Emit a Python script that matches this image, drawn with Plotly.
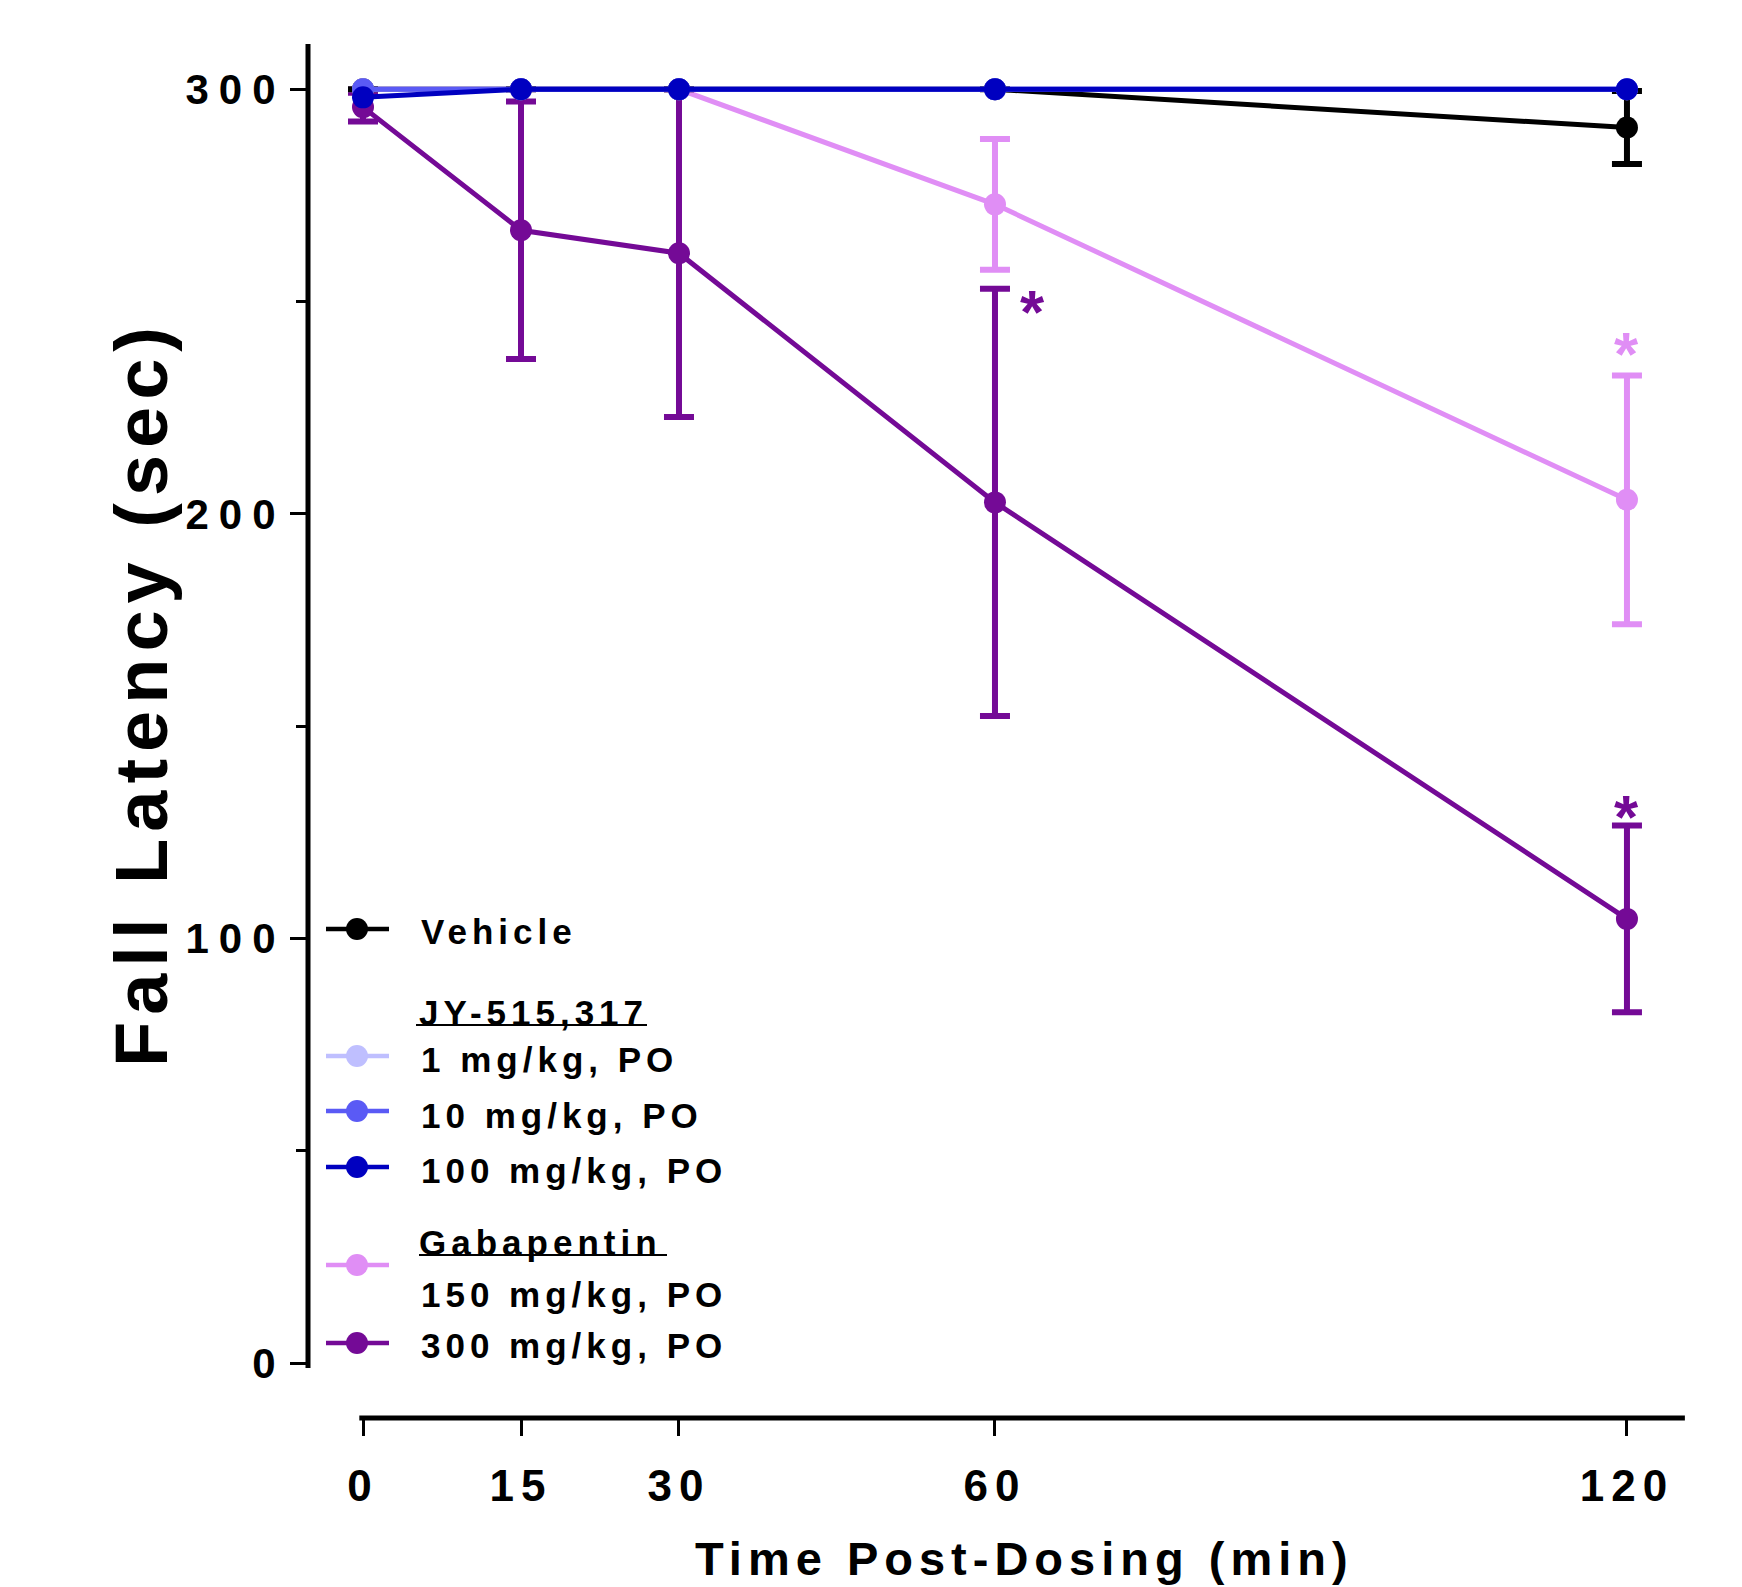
import plotly.graph_objects as go

# ---------------- data ----------------
time_min = [0, 15, 30, 60, 120]
vehicle = [300, 300, 300, 300, 291.0]
vehicle_sem = [None, None, None, None, 8.6]
jy_1 = [300, 300, 300, 300, 300]
jy_10 = [300, 300, 300, 300, 300]
jy_100 = [298.1, 300, 300, 300, 300]
gaba_150 = [300, 300, 300, 272.9, 203.3]
gaba_150_sem = [None, None, None, 15.4, 29.3]
gaba_300 = [295.8, 266.8, 261.4, 202.7, 104.6]
gaba_300_sem = [3.4, 30.3, 38.6, 50.3, 22.0]

x_ticks = [0, 15, 30, 60, 120]
y_ticks = [0, 100, 200, 300]
y_minor = [50, 150, 250]

star_x = [63.6, 120, 120]
star_y = [249.4, 239.4, 130.3]

legend_labels = ["Vehicle", "1 mg/kg, PO", "10 mg/kg, PO", "100 mg/kg, PO",
                 "150 mg/kg, PO", "300 mg/kg, PO"]
group_headers = ["JY-515,317", "Gabapentin"]

# ---------------- style ----------------
C_VEH = "#000000"
C_1 = "#BFBFFF"
C_10 = "#5A5AF5"
C_100 = "#0000C0"
C_150 = "#E08EF5"
C_300 = "#740A96"
FONT = "Liberation Sans, Arial, sans-serif"

W, H = 1742, 1587
L, R, T, B = 308, 1685, 44, 1418   # plot area in pixels


def spaced(txt, sp, trailing=False):
    if trailing:
        return f'<span style="letter-spacing:{sp}px">{txt}</span>'
    if len(txt) < 2:
        return txt
    return f'<span style="letter-spacing:{sp}px">{txt[:-1]}</span>{txt[-1]}'


def px(xp):
    return (xp - L) / (R - L)


def py(yp):
    return (B - yp) / (B - T)


fig = go.Figure()


def add_series(y, color, sem=None):
    err = None
    if sem is not None:
        err = dict(type="data", array=sem, symmetric=True, color=color,
                   thickness=6, width=15)
    fig.add_trace(go.Scatter(
        x=time_min, y=y, mode="lines+markers",
        line=dict(color=color, width=5),
        marker=dict(color=color, size=22, line=dict(width=0)),
        error_y=err, showlegend=False, cliponaxis=False))


add_series(gaba_300, C_300, gaba_300_sem)
add_series(gaba_150, C_150, gaba_150_sem)
add_series(vehicle, C_VEH, vehicle_sem)
add_series(jy_1, C_1)
add_series(jy_10, C_10)
add_series(jy_100, C_100)

# ---------------- manual legend (pixel overlay axes) ----------------
leg_colors = [C_VEH, C_1, C_10, C_100, C_150, C_300]
sym_y = [929, 1056, 1111, 1167, 1265, 1343]
txt_y = [932, 1059.5, 1115.5, 1170.5, 1294, 1345]
for col, yy in zip(leg_colors, sym_y):
    fig.add_trace(go.Scatter(
        x=[326, 389], y=[yy, yy], mode="lines", line=dict(color=col, width=4.5),
        xaxis="x2", yaxis="y2", showlegend=False, hoverinfo="skip"))
    fig.add_trace(go.Scatter(
        x=[357], y=[yy], mode="markers",
        marker=dict(color=col, size=22, line=dict(width=0)),
        xaxis="x2", yaxis="y2", showlegend=False, hoverinfo="skip"))

annotations = []
for lab, yy in zip(legend_labels, txt_y):
    annotations.append(dict(
        x=px(419), y=py(yy), xref="paper", yref="paper", xanchor="left",
        yanchor="middle", text="<b>" + spaced(lab, 5) + "</b>", showarrow=False,
        font=dict(family=FONT, size=35, color="black")))
hdr_y = [1012, 1242]
for lab, yy in zip(group_headers, hdr_y):
    annotations.append(dict(
        x=px(417), y=py(yy), xref="paper", yref="paper", xanchor="left",
        yanchor="middle", text="<b>" + spaced(lab, 5) + "</b>", showarrow=False,
        font=dict(family=FONT, size=35, color="black")))

shapes = [
    dict(type="line", xref="x2", yref="y2", x0=416, x1=647, y0=1025, y1=1025,
         line=dict(color="black", width=2)),
    dict(type="line", xref="x2", yref="y2", x0=419, x1=667, y0=1255, y1=1255,
         line=dict(color="black", width=2)),
    # axis lines
    dict(type="line", xref="paper", yref="y", x0=0, x1=0, y0=-1.2, y1=310.7,
         line=dict(color="black", width=5)),
    dict(type="line", xref="x", yref="paper", x0=-0.35, x1=125.5, y0=0, y1=0,
         line=dict(color="black", width=5)),
]

# significance stars
star_cols = [C_300, C_150, C_300]
for sx, sy, sc in zip(star_x, star_y, star_cols):
    annotations.append(dict(
        x=sx, y=sy, xref="x", yref="y", xanchor="center", yanchor="middle",
        text="<b>*</b>", showarrow=False, yshift=-7,
        font=dict(family=FONT, size=62, color=sc)))

# axis titles
annotations.append(dict(
    x=px(141), y=py(697), xref="paper", yref="paper", xanchor="center",
    yanchor="middle", textangle=-90,
    text="<b>" + spaced("Fall Latency (sec)", 7) + "</b>",
    showarrow=False, font=dict(family=FONT, size=74, color="black")))
annotations.append(dict(
    x=px(1021), y=py(1558), xref="paper", yref="paper", xanchor="center",
    yanchor="middle", text="<b>" + spaced("Time Post-Dosing (min)", 6) + "</b>",
    showarrow=False, font=dict(family=FONT, size=47, color="black")))

x_range = [(L - 363) / 10.533, (R - 363) / 10.533]
y_range = [(1363 - B) / 4.2457, (1363 - T) / 4.2457]

fig.update_layout(
    width=W, height=H,
    margin=dict(l=L, r=W - R, t=T, b=H - B, pad=0),
    paper_bgcolor="white", plot_bgcolor="white",
    showlegend=False,
    xaxis=dict(range=x_range, showgrid=False, zeroline=False, showline=False,
               tickmode="array", tickvals=x_ticks,
               ticktext=["<b>" + spaced(str(v), 7, trailing=True) + "</b>"
                         for v in x_ticks],
               ticks="outside", ticklen=17, tickwidth=3, tickcolor="black",
               tickfont=dict(family=FONT, size=44, color="black"),
               ticklabelstandoff=12, fixedrange=True),
    yaxis=dict(range=y_range, showgrid=False, zeroline=False, showline=False,
               tickmode="array", tickvals=y_ticks,
               ticktext=["<b>" + spaced(str(v), 10) + "</b>" for v in y_ticks],
               ticks="outside", ticklen=17, tickwidth=3, tickcolor="black",
               tickfont=dict(family=FONT, size=42, color="black"),
               ticklabelstandoff=6,
               minor=dict(tickvals=y_minor, ticks="outside", ticklen=11,
                          tickwidth=3, tickcolor="black"),
               fixedrange=True),
    xaxis2=dict(overlaying="x", anchor="y2", range=[L, R], visible=False,
                fixedrange=True),
    yaxis2=dict(overlaying="y", anchor="x2", range=[B, T], visible=False,
                fixedrange=True),
    annotations=annotations,
    shapes=shapes,
)

fig.write_html("out.html")
